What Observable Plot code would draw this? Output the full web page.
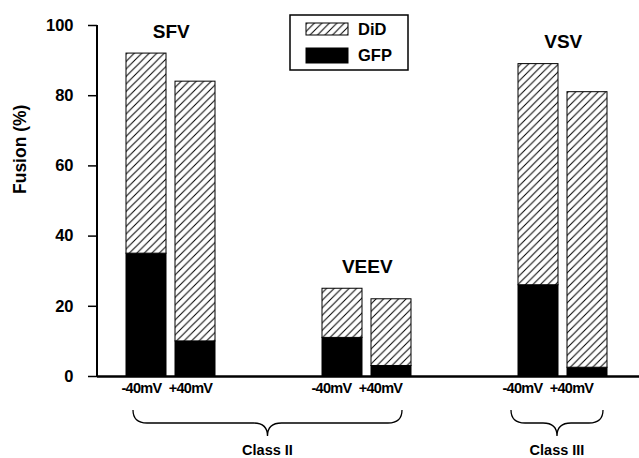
<!DOCTYPE html>
<html><head><meta charset="utf-8">
<script src="https://cdn.jsdelivr.net/npm/d3@7"></script>
<script src="https://cdn.jsdelivr.net/npm/@observablehq/plot@0.6"></script>
<style>body{margin:0;background:#fff;} #chart{width:639px;height:458px;}</style>
</head><body><div id="chart"></div>
<script>
// ---- data ----
const groups = ["SFV", "VEEV", "VSV"];
const voltages = ["-40mV", "+40mV"];
const didFusion = [[92, 84], [25, 22], [89, 81]];   // total fusion (DiD, top of bar)
const gfpFusion = [[35, 10], [11, 3], [26, 2.5]];   // GFP (content mixing)
const yTicks = [0, 20, 40, 60, 80, 100];
const classes = ["Class II", "Class III"];
const classMembers = [["SFV", "VEEV"], ["VSV"]];
const legendItems = ["DiD", "GFP"];

// ---- layout ----
const font = "'Liberation Sans', Arial, Helvetica, sans-serif";
const W = 639, H = 458, mL = 97, mR = 0, mT = 25, mB = 82;
const insetL = 26.3, insetR = 29, padInner = 0.18;
const braceInsets = [[7, 9], [-7, 4]];
const labelShift = [-5, -11, -16];

const domain = [];
groups.forEach((g, i) => {
  if (i > 0) domain.push(`gap${i}a`, `gap${i}b`);
  voltages.forEach(v => domain.push(`${g} ${v}`));
});
const step = (W - mL - mR - insetL - insetR) / (domain.length - padInner);

const rows = groups.flatMap((g, i) => voltages.map((v, j) => ({
  group: g, voltage: v, key: `${g} ${v}`, did: didFusion[i][j], gfp: gfpFusion[i][j]
})));
const groupRows = groups.map((g, i) => ({group: g, first: `${g} ${voltages[0]}`, top: d3.max(didFusion[i])}));

function axisLine(index, scales, values, dim) {
  const g = d3.create("svg:g");
  g.append("line")
    .attr("x1", dim.marginLeft).attr("x2", dim.marginLeft)
    .attr("y1", scales.y(d3.max(yTicks))).attr("y2", scales.y(0))
    .attr("stroke", "black").attr("stroke-width", 2);
  return g.node();
}

function braces(index, scales, values, dim) {
  const {x} = scales;
  const bw = x.bandwidth();
  const y0 = dim.height - dim.marginBottom;
  const g = d3.create("svg:g");
  classes.forEach((c, i) => {
    const mem = classMembers[i];
    const left = x(`${mem[0]} ${voltages[0]}`) + braceInsets[i][0];
    const right = x(`${mem[mem.length - 1]} ${voltages[voltages.length - 1]}`) + bw - braceInsets[i][1];
    const cx = (left + right) / 2;
    const top = y0 + 34, mid = y0 + 47, tip = y0 + 60;
    const r = Math.min(14, (right - left) / 6);
    const p = `M${left},${top} Q${left},${mid} ${left + r},${mid} L${cx - r},${mid} Q${cx},${mid} ${cx},${tip}` +
              ` Q${cx},${mid} ${cx + r},${mid} L${right - r},${mid} Q${right},${mid} ${right},${top}`;
    g.append("path").attr("d", p).attr("fill", "none").attr("stroke", "black").attr("stroke-width", 1.3);
    g.append("text").attr("x", cx).attr("y", y0 + 79).attr("text-anchor", "middle")
      .attr("font-family", font).attr("font-size", 14.5).attr("font-weight", "bold").text(c);
  });
  return g.node();
}

function legend(index, scales, values, dim) {
  const g = d3.create("svg:g");
  const bx = 290, by = 15, bwid = 118, bh = 55;
  g.append("rect").attr("x", bx).attr("y", by).attr("width", bwid).attr("height", bh)
    .attr("fill", "white").attr("stroke", "black").attr("stroke-width", 1.5);
  const fills = ["url(#hatch)", "black"];
  const ys = [23, 48], hs = [12, 15];
  legendItems.forEach((t, i) => {
    g.append("rect").attr("x", 306).attr("y", ys[i]).attr("width", 42).attr("height", hs[i])
      .attr("fill", fills[i]).attr("stroke", "black").attr("stroke-width", 1);
    g.append("text").attr("x", 358).attr("y", ys[i] + hs[i] / 2).attr("dy", "0.36em")
      .attr("text-anchor", "start")
      .attr("font-family", font).attr("font-size", 16.5).attr("font-weight", "bold").text(t);
  });
  return g.node();
}

const svg = Plot.plot({
  width: W, height: H,
  marginLeft: mL, marginRight: mR, marginTop: mT, marginBottom: mB,
  style: {fontFamily: font, background: "white", color: "black"},
  x: {type: "band", domain, insetLeft: insetL, insetRight: insetR, paddingInner: padInner, paddingOuter: 0, axis: null},
  y: {domain: [0, 100], axis: null},
  marks: [
    Plot.barY(rows, {x: "key", y1: 0, y2: "gfp", fill: "black", stroke: "black", strokeWidth: 1}),
    Plot.barY(rows, {x: "key", y1: "gfp", y2: "did", fill: "url(#hatch)", stroke: "black", strokeWidth: 1}),
    Plot.ruleY([0], {stroke: "black", strokeWidth: 2.5}),
    Plot.axisY({ticks: yTicks, tickSize: 9, tickPadding: 15, fontSize: 16.5, fontWeight: "bold", label: null, strokeWidth: 1.5}),
    axisLine,
    Plot.text(["Fusion (%)"], {text: d => d, frameAnchor: "left", rotate: -90, dx: -77, dy: -7, fontSize: 17.5, fontWeight: "bold"}),
    ...groups.map((g, i) => Plot.text(rows.filter(r => r.group === g),
      {x: "key", y: 0, text: "voltage", dy: 12, dx: labelShift[i], fontSize: 14.5, fontWeight: "bold"})),
    Plot.text(groupRows, {x: "first", y: "top", text: "group", dx: step / 2, dy: -16, lineAnchor: "bottom", fontSize: 19, fontWeight: "bold"}),
    braces,
    legend
  ]
});

const defs = d3.select(svg).insert("defs", ":first-child");
const s = 7.5;
const pat = defs.append("pattern").attr("id", "hatch").attr("patternUnits", "userSpaceOnUse")
  .attr("width", s).attr("height", s);
pat.append("rect").attr("width", s).attr("height", s).attr("fill", "white");
pat.append("path").attr("d", `M0,${s} L${s},0 M-2,2 L2,-2 M${s - 2},${s + 2} L${s + 2},${s - 2}`)
  .attr("stroke", "black").attr("stroke-width", 1);
d3.select(svg).selectAll("text").filter(function () { return this.textContent.includes("mV"); })
  .attr("letter-spacing", "-0.7");

document.getElementById("chart").appendChild(svg);
</script>
</body></html>
